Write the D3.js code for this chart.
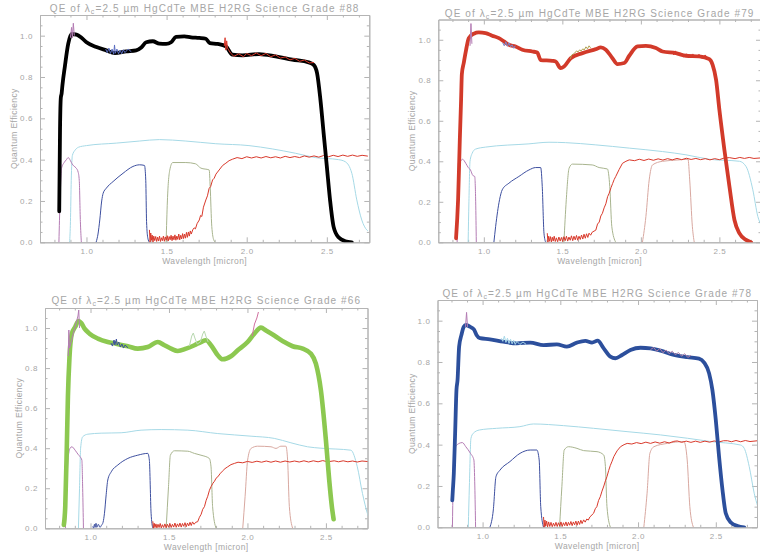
<!DOCTYPE html>
<html><head><meta charset="utf-8">
<script src="https://cdn.jsdelivr.net/npm/d3@7/dist/d3.min.js"></script>
<style>
body{margin:0;background:#fff}
svg{display:block}
text{font-family:"Liberation Sans",Arial,sans-serif;fill:#a6a6a6}
</style>
</head><body>
<svg id="chart" width="760" height="557"></svg>
<script>
// ---------------- tick labels / categories ----------------
const xTicks = [1.0, 1.5, 2.0, 2.5];
const xMinorTicks = [0.8,0.9,1.1,1.2,1.3,1.4,1.6,1.7,1.8,1.9,2.1,2.2,2.3,2.4,2.6,2.7];
const yTicks = [0.0, 0.2, 0.4, 0.6, 0.8, 1.0];
const yMinorTicks = [0.05,0.1,0.15,0.25,0.3,0.35,0.45,0.5,0.55,0.65,0.7,0.75,0.85,0.9,0.95,1.05];
const gradeIds = ["88", "79", "66", "78"];
const mainColors = ["#000000", "#d23a2a", "#8cc850", "#2c4f9c"];

// ---------------- Panel #88 ----------------
const p1Main = [[0.83,0.15],[0.835,0.55],[0.84,0.70],[0.845,0.72],[0.85,0.76],[0.865,0.85],[0.886,0.96],[0.907,1.008],[0.938,1.005],[0.969,0.99],[1.0,0.968],[1.062,0.945],[1.124,0.929],[1.176,0.916],[1.248,0.924],[1.31,0.929],[1.342,0.943],[1.373,0.968],[1.414,0.973],[1.455,0.961],[1.497,0.96],[1.528,0.968],[1.559,0.994],[1.611,0.997],[1.652,0.992],[1.704,0.989],[1.745,0.985],[1.77,0.964],[1.818,0.96],[1.87,0.948],[1.911,0.908],[1.973,0.905],[2.077,0.911],[2.18,0.9],[2.284,0.884],[2.387,0.871],[2.418,0.859],[2.439,0.819],[2.46,0.69],[2.48,0.528],[2.5,0.367],[2.52,0.205],[2.542,0.076],[2.573,0.024],[2.615,0.005],[2.656,0.0]];
const p1Cyan = [[0.895,0],[0.9,0.1],[0.905,0.3],[0.912,0.42],[0.93,0.447],[0.95,0.46],[1.0,0.468],[1.186,0.48],[1.33,0.49],[1.455,0.497],[1.62,0.49],[1.807,0.477],[2.014,0.468],[2.159,0.452],[2.304,0.431],[2.428,0.41],[2.573,0.4],[2.615,0.39],[2.656,0.334],[2.687,0.205],[2.718,0.108],[2.749,0.06],[2.756,0.055]];
const p1Purple = [[0.828,0],[0.835,0.2],[0.845,0.36],[0.86,0.385],[0.875,0.40],[0.886,0.41],[0.9,0.395],[0.91,0.38],[0.92,0.37],[0.935,0.36],[0.948,0.34],[0.955,0.3],[0.962,0.1],[0.968,0]];
const p1Spike = [[0.9,0.99],[0.907,1.04],[0.912,0.99],[0.918,1.06],[0.924,1.0]];
const p1Blue = [[1.06,0],[1.072,0.04],[1.083,0.108],[1.095,0.2],[1.104,0.237],[1.124,0.262],[1.166,0.294],[1.228,0.334],[1.29,0.367],[1.331,0.375],[1.362,0.372],[1.37,0.3],[1.375,0.1],[1.383,0.02],[1.393,0]];
const p1Green = [[1.497,0],[1.505,0.2],[1.52,0.35],[1.538,0.386],[1.62,0.386],[1.68,0.38],[1.714,0.359],[1.766,0.35],[1.772,0.27],[1.782,0.077],[1.795,0.01],[1.805,0]];
const p1Red = [[1.393,0.06],[1.397,0.0],[1.401,0.045],[1.406,0.01],[1.41,0.035],[1.415,0.0],[1.42,0.03],[1.426,0.008],[1.432,0.028],[1.438,0.004],[1.444,0.025],[1.45,0.006],[1.456,0.03],[1.462,0.004],[1.468,0.022],[1.474,0.008],[1.48,0.03],[1.486,0.005],[1.492,0.026],[1.498,0.01],[1.504,0.032],[1.51,0.006],[1.516,0.028],[1.522,0.012],[1.528,0.034],[1.534,0.008],[1.54,0.03],[1.546,0.012],[1.552,0.036],[1.558,0.01],[1.564,0.03],[1.57,0.014],[1.576,0.04],[1.582,0.012],[1.588,0.034],[1.594,0.016],[1.6,0.042],[1.606,0.018],[1.612,0.04],[1.618,0.02],[1.624,0.048],[1.63,0.024],[1.636,0.05],[1.642,0.03],[1.648,0.055],[1.654,0.04],[1.663,0.06],[1.672,0.07],[1.68,0.065],[1.69,0.09],[1.704,0.108],[1.712,0.13],[1.72,0.125],[1.73,0.17],[1.745,0.205],[1.755,0.225],[1.765,0.26],[1.775,0.27],[1.787,0.302],[1.797,0.31],[1.808,0.33],[1.818,0.34],[1.828,0.35],[1.85,0.372],[1.87,0.383],[1.89,0.395],[1.911,0.402],[1.94,0.41],[1.97,0.405],[2.0,0.414],[2.03,0.408],[2.06,0.414],[2.09,0.408],[2.12,0.415],[2.15,0.409],[2.18,0.414],[2.21,0.408],[2.24,0.416],[2.27,0.41],[2.3,0.415],[2.33,0.41],[2.36,0.418],[2.39,0.412],[2.42,0.418],[2.45,0.412],[2.48,0.42],[2.51,0.414],[2.54,0.421],[2.57,0.415],[2.6,0.422],[2.63,0.416],[2.66,0.422],[2.69,0.416],[2.72,0.421],[2.756,0.417]];
const p1OverBlue = [[1.12,0.935],[1.13,0.918],[1.14,0.94],[1.15,0.914],[1.16,0.935],[1.17,0.91],[1.175,0.955],[1.18,0.915],[1.19,0.935],[1.2,0.912],[1.21,0.93],[1.22,0.912],[1.23,0.932],[1.24,0.918],[1.26,0.935],[1.28,0.922]];
const p1OverRed = [[1.86,0.95],[1.865,0.99],[1.87,0.93],[1.875,0.975],[1.88,0.94],[1.9,0.915],[1.92,0.9],[1.95,0.912],[1.98,0.898],[2.0,0.914],[2.03,0.903],[2.06,0.916],[2.09,0.903],[2.12,0.914],[2.15,0.898],[2.18,0.907],[2.21,0.892],[2.24,0.897],[2.27,0.883],[2.3,0.89],[2.33,0.876],[2.36,0.882],[2.39,0.868],[2.42,0.87]];

// ---------------- Panel #79 ----------------
const p2Main = [[0.823,0.02],[0.836,0.21],[0.847,0.506],[0.855,0.70],[0.86,0.83],[0.872,0.885],[0.887,0.95],[0.904,1.008],[0.936,1.03],[0.968,1.036],[1.011,1.033],[1.053,1.02],[1.096,1.008],[1.128,0.992],[1.16,0.975],[1.202,0.967],[1.245,0.951],[1.309,0.942],[1.34,0.937],[1.362,0.9],[1.436,0.896],[1.457,0.893],[1.489,0.86],[1.511,0.868],[1.553,0.909],[1.628,0.934],[1.713,0.954],[1.745,0.962],[1.777,0.951],[1.819,0.909],[1.851,0.88],[1.894,0.885],[1.926,0.921],[1.979,0.967],[2.032,0.97],[2.096,0.959],[2.138,0.942],[2.223,0.934],[2.287,0.921],[2.372,0.918],[2.436,0.904],[2.457,0.876],[2.479,0.802],[2.5,0.654],[2.532,0.456],[2.564,0.275],[2.596,0.11],[2.628,0.044],[2.67,0.012],[2.702,0.0]];
const p2Cyan = [[0.9,0],[0.905,0.2],[0.912,0.4],[0.926,0.44],[0.947,0.46],[1.011,0.47],[1.287,0.486],[1.415,0.494],[1.521,0.492],[1.713,0.481],[1.926,0.465],[2.138,0.448],[2.287,0.432],[2.436,0.41],[2.628,0.4],[2.67,0.374],[2.713,0.259],[2.745,0.127],[2.77,0.08]];
const p2Purple = [[0.83,0],[0.834,0.2],[0.838,0.39],[0.85,0.40],[0.864,0.41],[0.885,0.39],[0.9,0.37],[0.915,0.357],[0.93,0.33],[0.942,0.325],[0.948,0.2],[0.952,0]];
const p2Spike = [[0.912,0.97],[0.918,1.08],[0.924,0.98]];
const p2Blue = [[1.064,0],[1.075,0.077],[1.1,0.21],[1.117,0.259],[1.16,0.292],[1.223,0.325],[1.287,0.357],[1.33,0.369],[1.362,0.369],[1.372,0.275],[1.383,0.045],[1.394,0]];
const p2Green = [[1.51,0],[1.525,0.21],[1.543,0.366],[1.564,0.386],[1.69,0.382],[1.734,0.369],[1.787,0.362],[1.802,0.275],[1.815,0.077],[1.84,0]];
const p2Red = [[1.404,0.045],[1.408,0.0],[1.413,0.03],[1.418,0.005],[1.424,0.028],[1.43,0.002],[1.436,0.025],[1.442,0.006],[1.448,0.03],[1.455,0.004],[1.462,0.022],[1.47,0.003],[1.478,0.026],[1.486,0.006],[1.494,0.024],[1.502,0.004],[1.51,0.028],[1.518,0.008],[1.526,0.03],[1.534,0.006],[1.542,0.026],[1.55,0.01],[1.558,0.032],[1.566,0.008],[1.574,0.03],[1.582,0.012],[1.59,0.034],[1.598,0.01],[1.606,0.03],[1.614,0.014],[1.622,0.036],[1.63,0.016],[1.638,0.04],[1.646,0.02],[1.654,0.042],[1.662,0.024],[1.67,0.045],[1.68,0.035],[1.69,0.05],[1.713,0.06],[1.724,0.09],[1.735,0.1],[1.745,0.13],[1.755,0.143],[1.766,0.17],[1.777,0.19],[1.788,0.225],[1.798,0.242],[1.81,0.27],[1.82,0.29],[1.83,0.31],[1.84,0.325],[1.862,0.36],[1.883,0.39],[1.905,0.4],[1.926,0.407],[1.96,0.403],[1.99,0.41],[2.02,0.404],[2.05,0.411],[2.08,0.405],[2.11,0.412],[2.14,0.406],[2.17,0.413],[2.2,0.407],[2.23,0.414],[2.26,0.408],[2.29,0.415],[2.32,0.409],[2.35,0.414],[2.38,0.408],[2.41,0.413],[2.44,0.407],[2.47,0.413],[2.5,0.408],[2.53,0.416],[2.564,0.418],[2.6,0.413],[2.63,0.419],[2.66,0.414],[2.69,0.419],[2.72,0.414],[2.77,0.417]];
const p2K = [[2.01,0],[2.032,0.127],[2.053,0.308],[2.074,0.382],[2.138,0.4],[2.245,0.407],[2.3,0.41],[2.311,0.308],[2.328,0.077],[2.34,0]];
const p2OverOlive = [[1.55,0.905],[1.56,0.925],[1.57,0.93],[1.58,0.935],[1.59,0.945],[1.6,0.94],[1.61,0.95],[1.62,0.945],[1.63,0.955],[1.64,0.95],[1.65,0.965],[1.66,0.955],[1.67,0.97],[1.68,0.96]];
const p2OverBlue = [[1.12,0.985],[1.13,0.97],[1.14,0.99],[1.15,0.968],[1.16,0.985],[1.17,0.965],[1.18,0.975],[1.19,0.958],[1.2,0.97]];
const p2OverRed = [[2.2,0.94],[2.21,0.925],[2.22,0.945],[2.23,0.925],[2.25,0.935],[2.27,0.915],[2.29,0.93],[2.31,0.912],[2.33,0.93],[2.35,0.91],[2.37,0.928],[2.39,0.908],[2.41,0.925],[2.43,0.9]];

// ---------------- Panel #66 ----------------
const p3Main = [[0.83,0.017],[0.839,0.108],[0.849,0.407],[0.856,0.656],[0.866,0.855],[0.881,0.972],[0.902,1.005],[0.924,1.035],[0.941,1.025],[0.962,0.997],[0.994,0.972],[1.047,0.947],[1.11,0.93],[1.163,0.922],[1.238,0.909],[1.301,0.897],[1.365,0.905],[1.429,0.93],[1.471,0.914],[1.513,0.897],[1.556,0.885],[1.609,0.897],[1.662,0.914],[1.704,0.93],[1.736,0.939],[1.768,0.914],[1.811,0.864],[1.842,0.844],[1.895,0.859],[1.938,0.889],[2.001,0.93],[2.044,0.972],[2.086,1.002],[2.118,0.988],[2.171,0.963],[2.235,0.93],[2.288,0.909],[2.352,0.897],[2.405,0.872],[2.436,0.822],[2.468,0.689],[2.5,0.44],[2.521,0.241],[2.538,0.108],[2.549,0.045]];
const p3Cyan = [[0.923,0],[0.93,0.2],[0.937,0.4],[0.95,0.457],[0.983,0.47],[1.068,0.475],[1.195,0.477],[1.322,0.49],[1.45,0.493],[1.62,0.49],[1.811,0.473],[2.023,0.46],[2.171,0.449],[2.277,0.427],[2.383,0.407],[2.468,0.4],[2.659,0.39],[2.7,0.307],[2.733,0.174],[2.764,0.075],[2.77,0.06]];
const p3Purple = [[0.84,0],[0.849,0.2],[0.856,0.34],[0.87,0.4],[0.881,0.407],[0.902,0.39],[0.92,0.37],[0.934,0.357],[0.945,0.34],[0.95,0.2],[0.955,0]];
const p3Spike = [[0.858,0.86],[0.862,0.99],[0.866,0.9],[0.9,1.0],[0.92,1.06],[0.925,1.09],[0.93,1.0]];
const p3Blue = [[1.015,0.01],[1.02,0.0],[1.025,0.02],[1.03,0.005],[1.035,0.025],[1.04,0.005],[1.05,0.02],[1.06,0.005],[1.07,0.015],[1.08,0.03],[1.089,0.075],[1.1,0.17],[1.11,0.241],[1.132,0.282],[1.174,0.316],[1.238,0.349],[1.301,0.365],[1.365,0.374],[1.375,0.34],[1.386,0.075],[1.397,0]];
const p3Green = [[1.482,0],[1.497,0.208],[1.509,0.365],[1.535,0.387],[1.62,0.385],[1.662,0.374],[1.704,0.365],[1.757,0.349],[1.768,0.307],[1.778,0.108],[1.8,0]];
const p3Red = [[1.397,0.035],[1.401,0.0],[1.406,0.025],[1.411,0.004],[1.417,0.022],[1.423,0.002],[1.43,0.02],[1.437,0.004],[1.444,0.024],[1.451,0.002],[1.458,0.018],[1.466,0.004],[1.474,0.022],[1.482,0.003],[1.49,0.02],[1.498,0.005],[1.506,0.024],[1.514,0.004],[1.522,0.02],[1.53,0.006],[1.538,0.026],[1.546,0.005],[1.554,0.022],[1.562,0.008],[1.57,0.026],[1.578,0.006],[1.586,0.024],[1.594,0.01],[1.602,0.028],[1.61,0.008],[1.618,0.026],[1.626,0.012],[1.634,0.03],[1.642,0.014],[1.65,0.032],[1.66,0.02],[1.67,0.03],[1.683,0.033],[1.694,0.055],[1.705,0.07],[1.715,0.095],[1.726,0.108],[1.737,0.14],[1.747,0.16],[1.758,0.19],[1.768,0.208],[1.78,0.225],[1.79,0.235],[1.8,0.25],[1.811,0.257],[1.825,0.272],[1.84,0.285],[1.857,0.298],[1.874,0.307],[1.895,0.318],[1.917,0.324],[1.94,0.33],[1.97,0.327],[2.0,0.334],[2.03,0.329],[2.06,0.335],[2.09,0.33],[2.12,0.336],[2.15,0.33],[2.18,0.336],[2.21,0.33],[2.24,0.336],[2.27,0.331],[2.3,0.336],[2.33,0.331],[2.36,0.337],[2.39,0.331],[2.42,0.337],[2.45,0.332],[2.48,0.338],[2.51,0.332],[2.553,0.337],[2.58,0.332],[2.61,0.337],[2.64,0.332],[2.67,0.336],[2.7,0.331],[2.73,0.336],[2.77,0.333]];
const p3K = [[1.97,0],[1.985,0.158],[2.001,0.34],[2.023,0.399],[2.065,0.41],[2.15,0.407],[2.182,0.399],[2.213,0.41],[2.245,0.41],[2.256,0.34],[2.267,0.108],[2.288,0]];
const p3OverPink = [[2.03,0.96],[2.045,1.02],[2.06,1.05],[2.07,1.08]];
const p3OverLight = [[1.63,0.91],[1.645,0.96],[1.655,0.975],[1.665,0.95],[1.68,0.92],[1.7,0.93],[1.715,0.97],[1.725,0.985],[1.735,0.96],[1.75,0.93]];
const p3OverBlue = [[1.13,0.925],[1.14,0.91],[1.15,0.94],[1.155,0.915],[1.165,0.945],[1.17,0.915],[1.18,0.93],[1.19,0.905],[1.2,0.92],[1.21,0.9],[1.22,0.915],[1.24,0.9]];

// ---------------- Panel #78 ----------------
const p4Main = [[0.805,0.13],[0.808,0.17],[0.815,0.261],[0.824,0.471],[0.832,0.665],[0.839,0.713],[0.849,0.874],[0.864,0.931],[0.879,0.971],[0.892,0.979],[0.918,0.971],[0.944,0.958],[0.961,0.931],[0.983,0.915],[1.047,0.91],[1.133,0.898],[1.22,0.89],[1.306,0.894],[1.392,0.882],[1.478,0.885],[1.542,0.874],[1.607,0.894],[1.661,0.902],[1.704,0.894],[1.74,0.903],[1.779,0.866],[1.822,0.826],[1.854,0.818],[1.897,0.834],[1.951,0.858],[2.016,0.869],[2.08,0.866],[2.145,0.855],[2.231,0.834],[2.317,0.823],[2.392,0.816],[2.425,0.797],[2.457,0.745],[2.478,0.665],[2.5,0.519],[2.521,0.342],[2.543,0.181],[2.564,0.068],[2.597,0.023],[2.64,0.006],[2.683,0.0]];
const p4Cyan = [[0.908,0],[0.915,0.2],[0.925,0.43],[0.94,0.455],[0.98,0.471],[1.09,0.479],[1.24,0.487],[1.327,0.5],[1.52,0.492],[1.714,0.479],[1.929,0.463],[2.145,0.447],[2.317,0.431],[2.467,0.415],[2.66,0.398],[2.683,0.382],[2.715,0.294],[2.747,0.165],[2.77,0.1]];
const p4Purple = [[0.806,0],[0.81,0.2],[0.815,0.374],[0.849,0.406],[0.87,0.41],[0.892,0.39],[0.922,0.358],[0.944,0.326],[0.95,0.2],[0.955,0]];
const p4Spike = [[0.89,0.97],[0.897,1.04],[0.903,0.97]];
const p4Blue = [[1.047,0],[1.069,0.084],[1.086,0.245],[1.112,0.277],[1.176,0.318],[1.241,0.358],[1.306,0.374],[1.349,0.374],[1.364,0.326],[1.374,0.1],[1.392,0]];
const p4Green = [[1.495,0],[1.51,0.197],[1.525,0.374],[1.553,0.39],[1.607,0.382],[1.65,0.371],[1.736,0.366],[1.779,0.35],[1.79,0.294],[1.8,0.1],[1.822,0]];
const p4Red = [[1.392,0.05],[1.396,0.0],[1.401,0.035],[1.406,0.006],[1.412,0.03],[1.418,0.002],[1.425,0.026],[1.432,0.004],[1.44,0.024],[1.448,0.003],[1.456,0.02],[1.464,0.005],[1.472,0.024],[1.48,0.004],[1.488,0.022],[1.496,0.006],[1.504,0.026],[1.512,0.004],[1.52,0.022],[1.528,0.008],[1.536,0.026],[1.544,0.006],[1.552,0.024],[1.56,0.01],[1.568,0.028],[1.576,0.008],[1.584,0.026],[1.592,0.012],[1.6,0.03],[1.608,0.01],[1.616,0.03],[1.624,0.014],[1.632,0.034],[1.64,0.018],[1.65,0.036],[1.66,0.025],[1.67,0.04],[1.68,0.035],[1.69,0.05],[1.714,0.068],[1.725,0.09],[1.735,0.1],[1.746,0.13],[1.757,0.148],[1.768,0.175],[1.78,0.2],[1.79,0.225],[1.8,0.245],[1.811,0.275],[1.822,0.3],[1.833,0.32],[1.844,0.342],[1.865,0.37],[1.887,0.39],[1.91,0.4],[1.93,0.406],[1.96,0.403],[1.99,0.41],[2.02,0.405],[2.05,0.412],[2.08,0.406],[2.11,0.413],[2.14,0.407],[2.17,0.414],[2.2,0.408],[2.23,0.416],[2.252,0.418],[2.28,0.411],[2.31,0.417],[2.34,0.411],[2.37,0.417],[2.4,0.411],[2.43,0.417],[2.46,0.412],[2.49,0.418],[2.52,0.413],[2.55,0.419],[2.575,0.419],[2.6,0.414],[2.63,0.42],[2.66,0.414],[2.69,0.42],[2.72,0.415],[2.77,0.419]];
const p4K = [[2.037,0],[2.058,0.165],[2.076,0.358],[2.102,0.39],[2.188,0.406],[2.295,0.415],[2.316,0.326],[2.333,0.1],[2.356,0]];
const p4OverLight = [[1.12,0.915],[1.13,0.9],[1.14,0.925],[1.15,0.895],[1.16,0.915],[1.17,0.89],[1.18,0.91],[1.19,0.888],[1.2,0.905],[1.21,0.885],[1.22,0.9],[1.24,0.885],[1.26,0.897],[1.28,0.885]];
const p4OverPurple = [[2.08,0.86],[2.1,0.87],[2.12,0.852],[2.14,0.865],[2.16,0.845],[2.18,0.858],[2.2,0.84],[2.22,0.852],[2.24,0.835],[2.26,0.846],[2.28,0.828],[2.3,0.84],[2.32,0.822],[2.34,0.832]];

// ---------------- drawing ----------------
const svg = d3.select("#chart");
const xDomain = [0.71, 2.765];
const yDomain = [0, 1.1];

const C = {cyan:"#a6d9e6", purple:"#b47cb4", jblue:"#3d4f9f", hgreen:"#a8b48e", kpink:"#d8a8a0", red:"#d8392b", olive:"#b0a050", light:"#a8d8e8"};

const panels = [
  {id:gradeIds[0], box:{l:40, r:369.3, t:15, b:242.3}, titleY:12, main:p1Main, mainColor:mainColors[0], mainWidth:3.8,
   series:[[p1Cyan,C.cyan,1],[p1Purple,C.purple,1],[p1Blue,C.jblue,1],[p1Green,C.hgreen,1],[p1Red,C.red,1]],
   over:[[p1OverBlue,"#5a6cc0",1],[p1OverRed,C.red,1],[p1Spike,C.purple,1]]},
  {id:gradeIds[1], box:{l:438.3, r:761, t:19.5, b:242.3}, titleY:16.5, main:p2Main, mainColor:mainColors[1], mainWidth:3.8,
   series:[[p2Cyan,C.cyan,1],[p2Purple,C.purple,1],[p2Blue,C.jblue,1],[p2Green,C.hgreen,1],[p2K,C.kpink,1],[p2Red,C.red,1]],
   over:[[p2OverOlive,C.olive,1],[p2OverBlue,"#7a8ad0",1],[p2OverRed,C.red,1],[p2Spike,C.purple,1]]},
  {id:gradeIds[2], box:{l:45, r:367.5, t:308, b:528.3}, titleY:304, main:p3Main, mainColor:mainColors[2], mainWidth:4.6,
   series:[[p3Cyan,C.cyan,1],[p3Purple,C.purple,1],[p3Blue,C.jblue,1],[p3Green,C.hgreen,1],[p3K,C.kpink,1],[p3Red,C.red,1]],
   over:[[p3OverBlue,C.jblue,1],[p3OverLight,"#b8d8b0",1],[p3OverPink,"#d070a0",1],[p3Spike,C.purple,1]]},
  {id:gradeIds[3], box:{l:437.5, r:757, t:300, b:527.3}, titleY:297, main:p4Main, mainColor:mainColors[3], mainWidth:3.8,
   series:[[p4Cyan,C.cyan,1],[p4Purple,C.purple,1],[p4Blue,C.jblue,1],[p4Green,C.hgreen,1],[p4K,C.kpink,1],[p4Red,C.red,1]],
   over:[[p4OverLight,C.light,1],[p4OverPurple,"#b080a8",1],[p4Spike,C.purple,1]]}
];

function drawPanel(p){
  const {l,r,t,b} = p.box;
  const x = d3.scaleLinear().domain(xDomain).range([l, r]);
  const y = d3.scaleLinear().domain(yDomain).range([b, t]);
  const g = svg.append("g");
  const axisColor = "#b4b4b4";

  // axes
  const styleAxis = sel => { sel.selectAll("path.domain").attr("stroke", axisColor).attr("stroke-width", 1);
    sel.selectAll("line").attr("stroke", axisColor);
    sel.selectAll("text").attr("fill", "#a6a6a6").attr("font-size", 8).attr("letter-spacing", 0.6)
      .attr("font-family", "'Liberation Sans', Arial, sans-serif"); };
  g.append("g").attr("transform", `translate(0,${b})`)
    .call(d3.axisBottom(x).tickValues(xTicks).tickSize(-5).tickSizeOuter(0).tickPadding(6).tickFormat(d3.format(".1f"))).call(styleAxis);
  g.append("g").attr("transform", `translate(0,${b})`)
    .call(d3.axisBottom(x).tickValues(xMinorTicks).tickSize(-2.5).tickSizeOuter(0).tickFormat("")).call(styleAxis);
  g.append("g").attr("transform", `translate(0,${t})`)
    .call(d3.axisTop(x).tickValues(xTicks).tickSize(-5).tickSizeOuter(0).tickFormat("")).call(styleAxis);
  g.append("g").attr("transform", `translate(0,${t})`)
    .call(d3.axisTop(x).tickValues(xMinorTicks).tickSize(-2.5).tickSizeOuter(0).tickFormat("")).call(styleAxis);
  g.append("g").attr("transform", `translate(${l},0)`)
    .call(d3.axisLeft(y).tickValues(yTicks).tickSize(-5).tickSizeOuter(0).tickPadding(7).tickFormat(d3.format(".1f"))).call(styleAxis);
  g.append("g").attr("transform", `translate(${l},0)`)
    .call(d3.axisLeft(y).tickValues(yMinorTicks).tickSize(-2.5).tickSizeOuter(0).tickFormat("")).call(styleAxis);
  g.append("g").attr("transform", `translate(${r},0)`)
    .call(d3.axisRight(y).tickValues(yTicks).tickSize(-5).tickSizeOuter(0).tickFormat("")).call(styleAxis);
  g.append("g").attr("transform", `translate(${r},0)`)
    .call(d3.axisRight(y).tickValues(yMinorTicks).tickSize(-2.5).tickSizeOuter(0).tickFormat("")).call(styleAxis);

  // clip
  const cid = "clip" + p.id;
  svg.append("clipPath").attr("id", cid).append("rect").attr("x", l).attr("y", t - 10).attr("width", r - l).attr("height", b - t + 10);
  const plot = g.append("g").attr("clip-path", `url(#${cid})`);

  const lineLin = d3.line().x(d => x(d[0])).y(d => y(d[1]));
  const lineSmooth = d3.line().x(d => x(d[0])).y(d => y(d[1])).curve(d3.curveMonotoneX);

  p.series.forEach(([data, color, w]) => {
    plot.append("path").attr("d", (data.length > 25 ? lineLin : lineSmooth)(data))
      .attr("fill", "none").attr("stroke", color).attr("stroke-width", w).attr("stroke-linejoin", "round");
  });
  plot.append("path").attr("d", lineSmooth(p.main)).attr("fill", "none").attr("stroke", p.mainColor)
    .attr("stroke-width", p.mainWidth).attr("stroke-linejoin", "round").attr("stroke-linecap", "round");
  p.over.forEach(([data, color, w]) => {
    plot.append("path").attr("d", lineLin(data)).attr("fill", "none").attr("stroke", color).attr("stroke-width", w);
  });

  // titles
  const cx = (l + Math.min(r, 762)) / 2;
  const title = g.append("text").attr("x", cx).attr("y", p.titleY).attr("text-anchor", "middle")
    .attr("font-size", 10).attr("letter-spacing", 1.1);
  title.append("tspan").text("QE of λ");
  title.append("tspan").attr("font-size", 7).attr("dy", 2).text("c");
  title.append("tspan").attr("dy", -2).text(`=2.5 µm HgCdTe MBE H2RG Science Grade #${p.id}`);

  g.append("text").attr("x", (l + r) / 2).attr("y", b + 22).attr("text-anchor", "middle")
    .attr("font-size", 8.5).attr("letter-spacing", 0.4).text("Wavelength [micron]");
  g.append("text").attr("transform", `translate(${l - 23},${(t + b) / 2}) rotate(-90)`).attr("text-anchor", "middle")
    .attr("font-size", 8.5).attr("letter-spacing", 0.4).text("Quantum Efficiency");
}

panels.forEach(drawPanel);
</script>
</body></html>
